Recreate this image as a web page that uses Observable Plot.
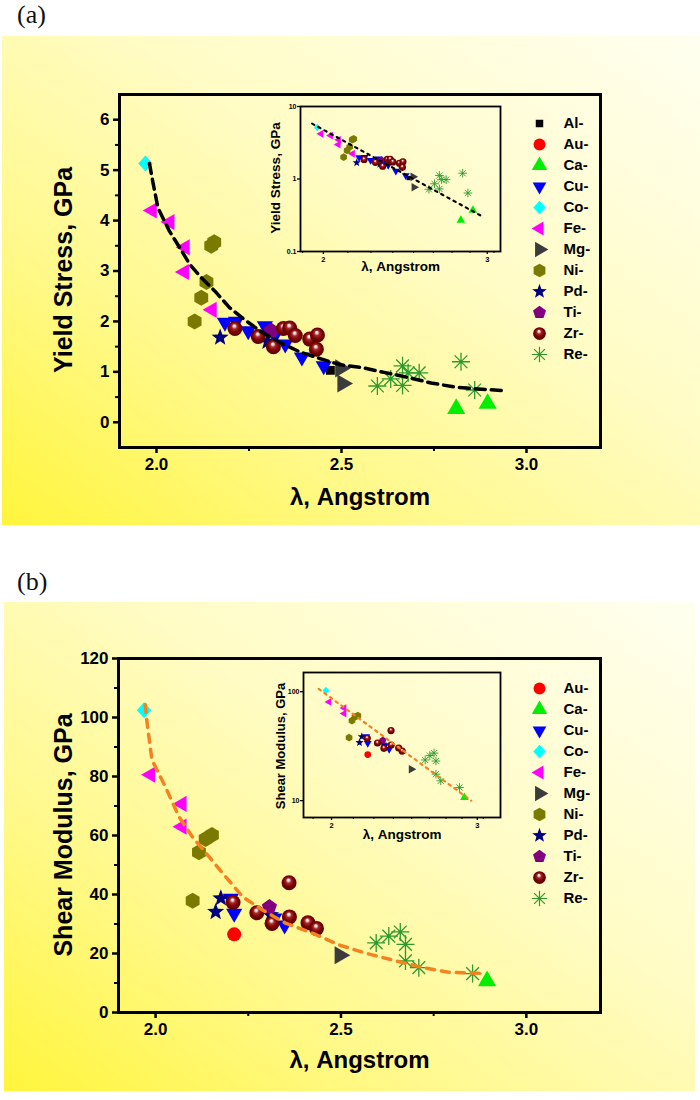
<!DOCTYPE html>
<html><head><meta charset="utf-8">
<script src="https://cdn.jsdelivr.net/npm/d3@7"></script>
<script src="https://cdn.jsdelivr.net/npm/@observablehq/plot@0.6"></script>
<style>
body{margin:0;background:#fff;font-family:"Liberation Sans",Arial,sans-serif;}
#root{position:relative;width:700px;height:1100px;overflow:hidden;}
.bg{position:absolute;background:linear-gradient(to top right,#fff53c 0%,#fff98c 30%,#fffcc6 60%,#fffff0 100%);}
.letter{position:absolute;font-family:"Liberation Serif","Times New Roman",serif;font-size:26px;color:#111;}
.ylab{position:absolute;white-space:nowrap;font-family:"Liberation Sans",Arial,sans-serif;font-weight:bold;color:#000;transform:translate(-50%,-50%) rotate(-90deg);z-index:5;line-height:1;}
</style></head>
<body>
<svg width="0" height="0" style="position:absolute">
  <defs>
    <radialGradient id="zrGrad" cx="0.5" cy="0.5" r="0.55" fx="0.45" fy="0.3">
      <stop offset="0" stop-color="#ffffff"/>
      <stop offset="0.13" stop-color="#f2dada"/>
      <stop offset="0.32" stop-color="#a52a2a"/>
      <stop offset="0.62" stop-color="#7d0000"/>
      <stop offset="1" stop-color="#4e0000"/>
    </radialGradient>
  </defs>
</svg>
<div id="root">
  <div class="bg" style="left:2px;top:36px;width:698px;height:489px"></div>
  <div class="bg" style="left:4px;top:602px;width:691px;height:489px"></div>
  <div class="letter" style="left:17px;top:0px">(a)</div>
  <div class="letter" style="left:17px;top:567px">(b)</div>
  <div class="ylab" style="left:63px;top:270px;font-size:25px">Yield Stress, GPa</div>
  <div class="ylab" style="left:63px;top:835px;font-size:25px">Shear Modulus, GPa</div>
  <div class="ylab" style="left:276px;top:178px;font-size:13.5px">Yield Stress, GPa</div>
  <div class="ylab" style="left:280px;top:746px;font-size:13px">Shear Modulus, GPa</div>
</div>
<script>
// ---------- DATA ----------
const legendA = ["Al","Au","Ca","Cu","Co","Fe","Mg","Ni","Pd","Ti","Zr","Re"];
const legendB = ["Au","Ca","Cu","Co","Fe","Mg","Ni","Pd","Ti","Zr","Re"];

// Panel (a): yield stress vs lambda
const yieldElem = ["Al","Ca","Ca","Cu","Cu","Cu","Cu","Cu","Cu","Cu","Cu","Co","Fe","Fe","Fe","Fe","Fe","Mg","Mg","Ni","Ni","Ni","Ni","Ni","Pd","Pd","Ti","Zr","Zr","Zr","Zr","Zr","Zr","Zr","Zr","Zr","Re","Re","Re","Re","Re","Re","Re","Re"];
const yieldLambda = [2.47,2.81,2.895,2.185,2.215,2.248,2.293,2.32,2.348,2.393,2.452,1.97,1.988,2.036,2.077,2.075,2.15,2.497,2.503,2.148,2.156,2.135,2.121,2.103,2.172,2.30,2.31,2.212,2.275,2.316,2.343,2.36,2.375,2.414,2.435,2.432,2.597,2.633,2.665,2.665,2.68,2.71,2.823,2.86];
const yieldStress = [1.03,0.27,0.37,1.98,2.0,1.81,1.91,1.72,1.55,1.29,1.12,5.13,4.2,3.97,3.47,2.98,2.23,1.07,0.77,3.5,3.57,2.78,2.47,2.0,1.68,1.6,1.82,1.86,1.70,1.50,1.86,1.87,1.72,1.65,1.73,1.45,0.72,0.86,1.12,0.73,0.98,0.98,1.2,0.64];
const yieldFitLambda = [1.981,1.99,2.004,2.035,2.063,2.09,2.117,2.158,2.198,2.235,2.28,2.334,2.389,2.443,2.497,2.552,2.615,2.679,2.742,2.805,2.869,2.932];
const yieldFitStress = [5.13,4.77,4.25,3.79,3.46,3.13,2.9,2.6,2.27,2.05,1.81,1.58,1.39,1.26,1.14,1.09,0.99,0.89,0.78,0.70,0.66,0.63];
const yieldInsetFitLambda = [1.945,2.97];
const yieldInsetFitStress = [5.8,0.30];

// Panel (b): shear modulus vs lambda
const shearElem = ["Au","Ca","Cu","Cu","Cu","Cu","Co","Fe","Fe","Fe","Mg","Ni","Ni","Ni","Ni","Pd","Pd","Pd","Ti","Zr","Zr","Zr","Zr","Zr","Zr","Zr","Re","Re","Re","Re","Re","Re","Re"];
const shearLambda = [2.212,2.894,2.203,2.212,2.32,2.348,1.969,1.986,2.071,2.071,2.497,2.152,2.135,2.117,2.10,2.176,2.162,2.31,2.307,2.209,2.273,2.314,2.36,2.361,2.411,2.434,2.595,2.629,2.66,2.674,2.674,2.71,2.855];
const shearModulus = [26.5,10.7,38.7,33.6,32,29.6,102.5,80.6,70.7,63.0,19.4,60.2,58.8,54.3,37.9,38.7,34.1,33,35.8,37.3,33.8,30.2,44.0,32.4,30.4,28.5,23.6,25.9,27.3,23.1,17.5,15.2,13.2];
const shearFitLambda = [1.972,1.976,1.99,2.026,2.063,2.099,2.144,2.189,2.235,2.289,2.352,2.425,2.497,2.57,2.642,2.715,2.787,2.887];
const shearFitModulus = [104.4,99.3,85.7,76.6,66.4,59.6,52.8,46.0,39.2,34.7,30.2,26.8,22.8,20.0,17.7,15.4,13.7,13.2];
const shearInsetFitLambda = [1.93,2.95];
const shearInsetFitModulus = [106,10];

// Tick values
const xMajor = [2.0,2.5,3.0];
const xMinor = [2.25,2.75];
const yieldTicks = [0,1,2,3,4,5,6];
const yieldMinor = [0.5,1.5,2.5,3.5,4.5,5.5];
const shearTicks = [0,20,40,60,80,100,120];
const shearMinor = [10,30,50,70,90,110];
const insetXTicks = [2,3];
const insetXMinor = [1.9,2.125,2.25,2.375,2.5,2.625,2.75,2.875,3.05];
const yieldInsetTicks = [0.1,1,10];
const shearInsetTicks = [10,100];

// ---------- SYMBOLS ----------
const R = s => Math.sqrt(s / Math.PI);
function poly(ctx, pts){ ctx.moveTo(pts[0][0], pts[0][1]); for (let i=1;i<pts.length;i++) ctx.lineTo(pts[i][0], pts[i][1]); ctx.closePath(); }
function regular(n, rot, k){ return {draw(ctx,size){ const r=R(size)*k; poly(ctx, d3.range(n).map(i=>{const a=rot+2*Math.PI*i/n; return [r*Math.cos(a), r*Math.sin(a)];})); }}; }
const symSquare = {draw(ctx,size){const s=R(size)*0.8; ctx.rect(-s,-s,2*s,2*s);}};
const symCircle = {draw(ctx,size){const r=R(size); ctx.moveTo(r,0); ctx.arc(0,0,r,0,2*Math.PI);}};
const symTriUp = regular(3,-Math.PI/2,1.1);
const symTriDown = regular(3,Math.PI/2,1.1);
const symTriLeft = regular(3,Math.PI,1.1);
const symTriRight = regular(3,0,1.1);
const symDiamond = {draw(ctx,size){const r=R(size); poly(ctx,[[0,-r],[r*0.9,0],[0,r],[-r*0.9,0]]);}};
const symHex = regular(6,-Math.PI/2,1);
const symPent = regular(5,-Math.PI/2,1);
const symStar = {draw(ctx,size){const r=R(size); const pts=[]; for(let i=0;i<10;i++){const a=-Math.PI/2+i*Math.PI/5; const rr=i%2?r*0.42:r; pts.push([rr*Math.cos(a), rr*Math.sin(a)]);} poly(ctx,pts);}};
const symAst = {draw(ctx,size){const r=R(size); for(let i=0;i<4;i++){const a=i*Math.PI/4; ctx.moveTo(r*Math.cos(a), r*Math.sin(a)); ctx.lineTo(-r*Math.cos(a), -r*Math.sin(a));}}};

const styleNames = ["Al","Au","Ca","Cu","Co","Fe","Mg","Ni","Pd","Ti","Zr","Re"];
const styleSymbols = [symSquare,symCircle,symTriUp,symTriDown,symDiamond,symTriLeft,symTriRight,symHex,symStar,symPent,symCircle,symAst];
const styleColors = ["#000000","#ff0000","#00ee00","#0000ff","#00ffff","#ff00ff","#3c3c3c","#7a7a00","#000080","#800080","url(#zrGrad)","#2e9a2e"];
const styleSizes = [5.5,7,9.5,8.5,8,8.5,9.5,8,9,8,7.5,9];
const styles = new Map(styleNames.map((n,i)=>[n,{symbol:styleSymbols[i], color:styleColors[i], r:styleSizes[i], stroked: n==="Re"}]));

function seriesMarks(elems, xs, ys, order, k, sw){
  const marks = [];
  for (const name of order){
    const idx = d3.range(elems.length).filter(i=>elems[i]===name);
    if (!idx.length) continue;
    const st = styles.get(name);
    marks.push(Plot.dot(idx, {x:i=>xs[i], y:i=>ys[i], symbol:st.symbol, r:st.r*k,
      fill: st.stroked ? "none" : st.color, stroke: st.stroked ? st.color : "none", strokeWidth: sw}));
  }
  return marks;
}

const root = document.getElementById("root");
function place(node, left, top){ node.style.position="absolute"; node.style.left=left+"px"; node.style.top=top+"px"; root.appendChild(node); }
const baseStyle = {background:"transparent", fontFamily:"'Liberation Sans', Arial, sans-serif", fontWeight:"bold", color:"#000", overflow:"visible"};

function mainChart(o){
  return Plot.plot({
    width:700, height:o.height, marginTop:o.mt, marginBottom:o.mb, marginLeft:o.ml, marginRight:o.mr,
    x:{domain:[1.9,3.2]}, y:{domain:o.yDomain},
    style: baseStyle,
    marks:[
      ...seriesMarks(o.elems,o.xs,o.ys,o.order,1,1.3),
      Plot.line(d3.range(o.fitX.length), {x:i=>o.fitX[i], y:i=>o.fitY[i], stroke:o.fitColor, strokeWidth:3.5, strokeDasharray:o.fitDash}),
      Plot.frame({stroke:"#000", strokeWidth:3}),
      Plot.axisX({ticks:xMajor, tickFormat:d3.format(".1f"), tickSize:6, tickPadding:4, strokeWidth:2.5, fontSize:17, label:null}),
      Plot.axisX({ticks:xMinor, tickFormat:()=>"", tickSize:4, strokeWidth:2, label:null}),
      Plot.axisY({ticks:o.yTicks, tickFormat:d=>String(d), tickSize:6, tickPadding:4, strokeWidth:2.5, fontSize:17, label:null}),
      Plot.axisY({ticks:o.yMinor, tickFormat:()=>"", tickSize:4, strokeWidth:2, label:null}),
      Plot.text(["λ, Angstrom"], {text:d=>d, frameAnchor:"bottom", lineAnchor:"middle", dy:o.xLabelDy, fontSize:24, fontWeight:"bold"})
    ]
  });
}

function insetChart(o){
  return Plot.plot({
    width:o.width, height:o.height, marginTop:o.mt, marginBottom:o.mb, marginLeft:o.ml, marginRight:o.mr,
    x:{type:"log", domain:o.xDomain}, y:{type:"log", domain:o.yDomain},
    style: baseStyle,
    marks:[
      ...seriesMarks(o.elems,o.xs,o.ys,o.order,0.48,0.9),
      Plot.line(d3.range(o.fitX.length), {x:i=>o.fitX[i], y:i=>o.fitY[i], stroke:o.fitColor, strokeWidth:2.2, strokeDasharray:"2.5,4.5"}),
      Plot.frame({stroke:"#000", strokeWidth:1.8}),
      Plot.axisX({ticks:insetXTicks, tickFormat:d=>String(d), tickSize:3, tickPadding:2, strokeWidth:1.3, fontSize:7.5, label:null}),
      Plot.axisX({ticks:insetXMinor, tickFormat:()=>"", tickSize:2, strokeWidth:1, label:null}),
      Plot.axisY({ticks:o.yTicks, tickFormat:d=>String(d), tickSize:3, tickPadding:1, strokeWidth:1.3, fontSize:7, label:null}),
      Plot.text(["λ, Angstrom"], {text:d=>d, frameAnchor:"bottom", lineAnchor:"middle", dy:o.xLabelDy, fontSize:13.5, fontWeight:"bold"})
    ]
  });
}

function legendChart(order, height, mt, mb){
  const marks = [];
  for (const name of order){
    const st = styles.get(name);
    marks.push(Plot.dot([name], {y:d=>d, frameAnchor:"left", symbol:st.symbol, r:st.r*0.85,
      fill: st.stroked ? "none" : st.color, stroke: st.stroked ? st.color : "none", strokeWidth:1.2}));
  }
  marks.push(Plot.text(order, {y:d=>d, text:d=>d+"-", frameAnchor:"left", dx:24, textAnchor:"start", fontSize:15, fontWeight:"bold"}));
  return Plot.plot({width:90, height, marginLeft:19, marginRight:0, marginTop:mt, marginBottom:mb,
    y:{type:"point", domain:order, padding:0, axis:null}, style: baseStyle, marks});
}

// Panel (a)
place(mainChart({elems:yieldElem, xs:yieldLambda, ys:yieldStress, order:legendA, fitX:yieldFitLambda, fitY:yieldFitStress,
  fitColor:"#000", fitDash:"10,6", yDomain:[-0.5,6.5], yTicks:yieldTicks, yMinor:yieldMinor,
  height:530, mt:94, mb:83, ml:119, mr:100, xLabelDy:50}), 0, 0);
place(insetChart({elems:yieldElem, xs:yieldLambda, ys:yieldStress, order:legendA, fitX:yieldInsetFitLambda, fitY:yieldInsetFitStress,
  fitColor:"#000", xDomain:[1.89,3.1], yDomain:[0.1,10], yTicks:yieldInsetTicks,
  width:280, height:200, mt:20, mb:35, ml:60, mr:20, xLabelDy:15}), 240, 86);
place(legendChart(legendA, 270, 21.7, 15), 520, 100);

// Panel (b)
place(mainChart({elems:shearElem, xs:shearLambda, ys:shearModulus, order:legendB, fitX:shearFitLambda, fitY:shearFitModulus,
  fitColor:"#f58220", fitDash:"8,7", yDomain:[0,120], yTicks:shearTicks, yMinor:shearMinor,
  height:540, mt:98, mb:88, ml:118, mr:100, xLabelDy:48}), 0, 560);
place(insetChart({elems:shearElem, xs:shearLambda, ys:shearModulus, order:legendB, fitX:shearInsetFitLambda, fitY:shearInsetFitModulus,
  fitColor:"#f58220", xDomain:[1.85,3.2], yDomain:[7,150], yTicks:shearInsetTicks,
  width:280, height:200, mt:22, mb:33, ml:63, mr:20, xLabelDy:17}), 240, 650);
place(legendChart(legendB, 245, 18.3, 16.7), 520, 670);
</script>
</body></html>
